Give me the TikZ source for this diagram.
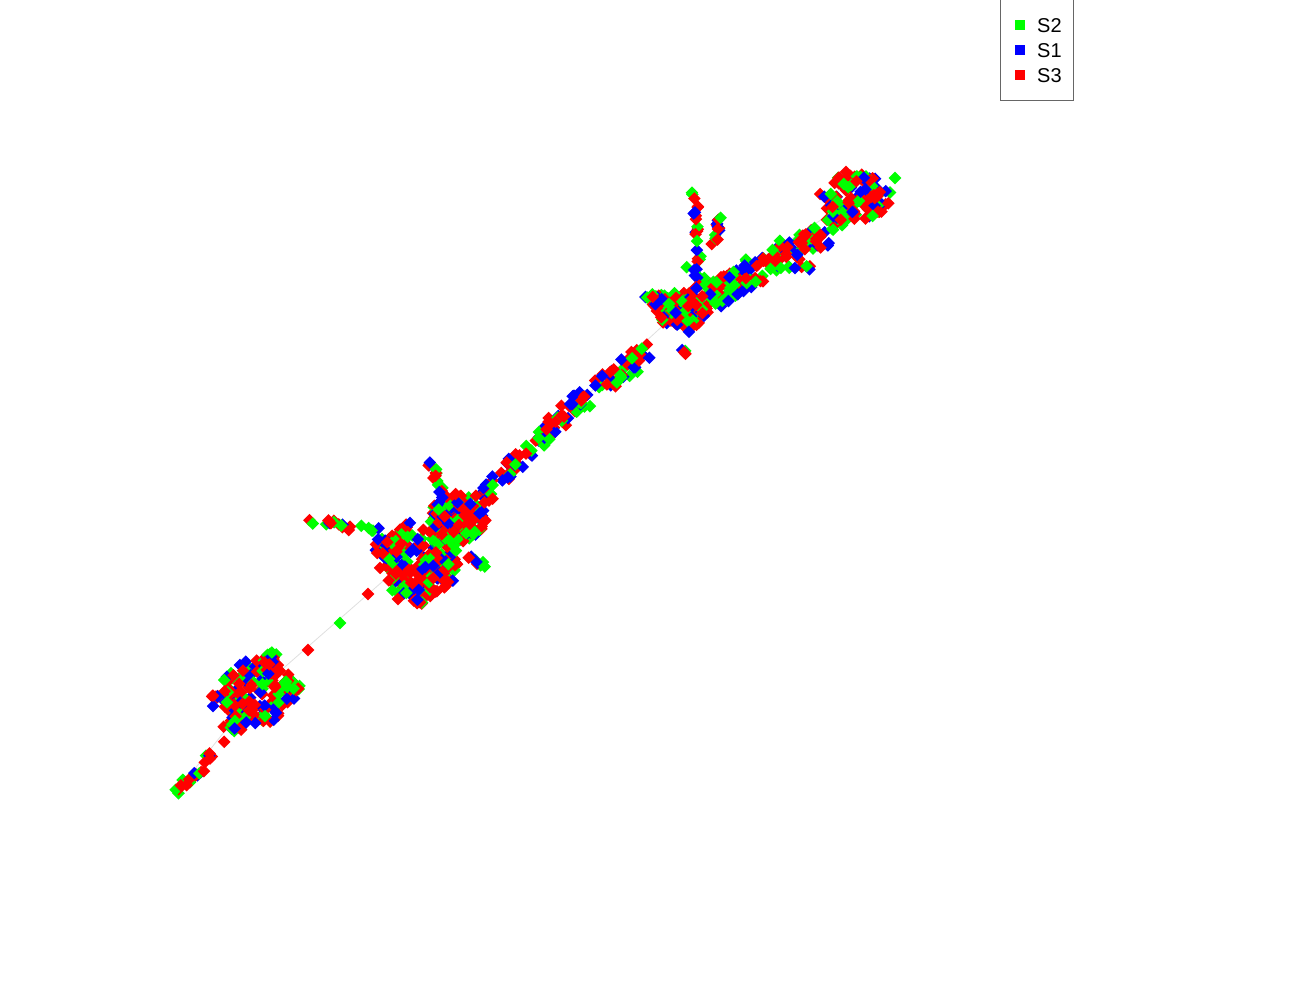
\documentclass[tikz,border=0pt]{standalone}
\usepackage{fontspec}
\setmainfont{Liberation Sans}
\definecolor{sgreen}{RGB}{0,255,0}
\definecolor{sblue}{RGB}{0,0,255}
\definecolor{sred}{RGB}{255,0,0}
\newcount\rgA \newcount\rgB \newcount\rgC \newcount\rgS
\global\rgA=4321 \global\rgB=8765 \global\rgC=2109
\newcommand\nextrand[1]{%
  \global\rgA=\numexpr 171*\rgA - ((171*\rgA - 15134)/30269)*30269\relax
  \global\rgB=\numexpr 172*\rgB - ((172*\rgB - 15153)/30307)*30307\relax
  \global\rgC=\numexpr 170*\rgC - ((170*\rgC - 15161)/30323)*30323\relax
  \rgS=\numexpr \rgA*10000/30269 + \rgB*10000/30307 + \rgC*10000/30323\relax
  \rgS=\numexpr \rgS - ((\rgS - 4999)/10000)*10000\relax
  \pgfmathsetmacro#1{\the\rgS/10000}}
\newcommand\Dia[3]{%
  \ifdim #3pt<0.27pt \def\mycol{sgreen}\else\ifdim #3pt<0.5pt \def\mycol{sblue}\else\def\mycol{sred}\fi\fi
  \fill[\mycol] (#1,#2) +(-6.3,0) -- +(0,-6.3) -- +(6.3,0) -- +(0,6.3) -- cycle;}
\newcommand\Seg[6]{%
  \foreach \k in {1,...,#6}{%
    \nextrand\myt \nextrand\ua \nextrand\ub \nextrand\cc
    \pgfmathsetmacro\rr{#5*sqrt(\ub)}%
    \pgfmathsetmacro\px{#1+(#3-#1)*\myt+\rr*cos(360*\ua)}%
    \pgfmathsetmacro\py{#2+(#4-#2)*\myt+\rr*sin(360*\ua)}%
    \Dia{\px}{\py}{\cc}}}
\newcommand\Blob[5]{%
  \foreach \k in {1,...,#5}{%
    \nextrand\ua \nextrand\ub \nextrand\cc
    \pgfmathsetmacro\rr{sqrt(\ub)}%
    \pgfmathsetmacro\px{#1+#3*\rr*cos(360*\ua)}%
    \pgfmathsetmacro\py{#2+#4*\rr*sin(360*\ua)}%
    \Dia{\px}{\py}{\cc}}}
\begin{document}
\begin{tikzpicture}[x=1pt,y=-1pt,
  legbox/.style={draw=gray!80!black,line width=0.8pt,fill=white},
  legmark/.style={minimum size=10pt,inner sep=0pt},
  legtext/.style={anchor=west,font=\fontsize{20}{22}\selectfont,inner sep=0pt}]
\useasboundingbox (0,0) rectangle (1300,1000);
% faint edges
\draw[gray!25,line width=0.8pt] (178,790) -- (255,693) -- (430,540) -- (560,420) -- (680,310) -- (860,195);
% bottom-left component
\Seg{175}{792}{200}{768}{4}{14}
\Seg{200}{768}{235}{722}{7}{16}
\Blob{257}{692}{38}{32}{120}
\Blob{240}{716}{12}{14}{30}
\Blob{272}{664}{10}{12}{25}
\Blob{290}{688}{10}{10}{16}
\Blob{220}{700}{10}{10}{14}
\Dia{308}{650}{0.9}
\Dia{340}{623}{0.1}
\Dia{368}{594}{0.9}
% middle component
\Blob{418}{560}{40}{38}{160}
\Blob{458}{518}{28}{24}{150}
\Blob{388}{548}{14}{14}{30}
\Blob{440}{570}{18}{18}{35}
\Seg{312}{520}{385}{532}{4}{20}
\Seg{430}{458}{445}{500}{4}{18}
\Seg{395}{595}{425}{600}{6}{12}
\Seg{462}{555}{482}{566}{4}{8}
% spine
\Seg{482}{498}{560}{420}{10}{65}
\Seg{545}{425}{648}{352}{11}{70}
% upper cluster
\Blob{682}{310}{26}{18}{95}
\Blob{660}{300}{10}{9}{20}
\Seg{640}{292}{700}{325}{5}{16}
\Seg{684}{356}{690}{320}{3}{8}
\Seg{694}{190}{700}{262}{3}{20}
\Seg{721}{217}{712}{252}{3}{13}
\Seg{688}{268}{712}{282}{4}{9}
\Seg{700}{302}{830}{228}{15}{160}
\Seg{790}{265}{812}{268}{3}{5}
\Blob{855}{198}{36}{24}{120}
\Dia{895}{178}{0.1}
\Dia{846}{172}{0.9}
% legend
\draw[legbox] (1000,-1) rectangle (1073,100);
\node[legmark,fill=sgreen] (m2) at (1020,25) {};
\node[legmark,fill=sblue] (m1) at (1020,50) {};
\node[legmark,fill=sred] (m3) at (1020,75) {};
\node[legtext] (t2) at (1037,26) {S2};
\node[legtext] (t1) at (1037,51) {S1};
\node[legtext] (t3) at (1037,76) {S3};
\end{tikzpicture}
\end{document}
